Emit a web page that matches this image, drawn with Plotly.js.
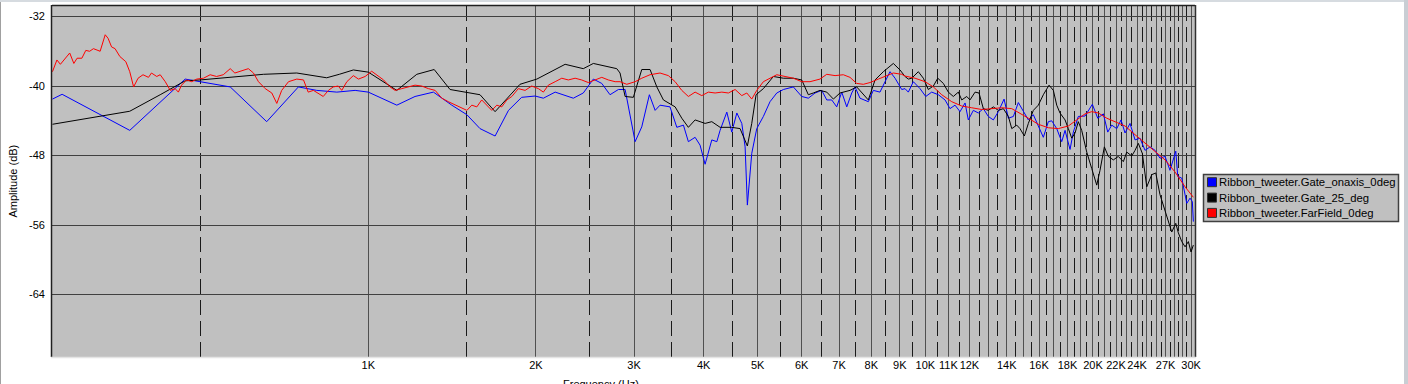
<!DOCTYPE html>
<html><head><meta charset="utf-8">
<script src="https://cdn.plot.ly/plotly-3.0.1.min.js"></script>
<style>
html,body{margin:0;padding:0;background:#fff;overflow:hidden}
#wrap{position:relative;width:1408px;height:384px}
#chart{position:absolute;left:0;top:0;width:1408px;height:384px}
.fr{position:absolute;pointer-events:none}
</style></head><body>
<div id="wrap"><div id="chart"></div>
<div class="fr" style="left:0;top:0;width:1405px;height:2px;background:#d6dbe0"></div>
<div class="fr" style="left:1404px;top:0;width:4px;height:384px;background:#c9ced4"></div>
<div class="fr" style="left:0;top:2px;width:1px;height:382px;background:#a0a0a0"></div>
</div>
<script>
// ---------------- DATA ----------------
const seriesNames = ['Ribbon_tweeter.Gate_onaxis_0deg','Ribbon_tweeter.Gate_25_deg','Ribbon_tweeter.FarField_0deg'];
const seriesColors = ['#0000ff','#000000','#ff0000'];

const onaxisFreq = [271,282,373,469,499,565,657,749,808,878,947,1000,1125,1213,1309,1412,1503,1587,1689,1785,1885,1993,2062,2165,2334,2432,2535,2625,2716,2812,2891,3013,3097,3196,3273,3340,3481,3580,3679,3755,3861,3941,4024,4137,4224,4281,4402,4493,4588,4683,4748,4792,4880,4982,5120,5263,5412,5562,5795,6000,6166,6340,6517,6654,6792,6934,7079,7227,7377,7479,7633,7901,8067,8291,8467,8642,8825,9071,9196,9322,9517,9784,10018,10268,10554,10850,11074,11309,11543,11786,11946,12197,12451,12712,12975,13248,13525,13849,14097,14392,14690,14998,15311,15631,15955,16289,16629,16865,17217,17576,17820,18189,18441,18824,19355,19948,20397,20876,21259,21613,22065,22458,22836,23309,23800,24291,24805,25319,25851,26384,26942,27500,28163,28396,28870,29474,29873,30161,30286];
const onaxisDb = [-41.5,-40.95,-45.1,-39.2,-39.5,-40.1,-44.1,-40.1,-40.5,-40.7,-40.5,-40.7,-42.2,-41.2,-40.7,-42.2,-43.3,-44.9,-45.75,-42.8,-41.3,-41.15,-41.4,-40.7,-41.4,-40.8,-39.2,-39.7,-41.0,-40.4,-40.4,-46.4,-44.7,-41.0,-42.8,-42.2,-42.4,-44.75,-44.5,-46.4,-45.9,-46.8,-49.0,-46.2,-46.4,-45.1,-43.0,-45.3,-43.1,-44.3,-47.0,-53.7,-47.75,-44.9,-43.5,-41.8,-40.8,-40.4,-40.1,-41.2,-41.4,-40.8,-40.5,-41.6,-41.6,-42.4,-40.7,-42.4,-40.8,-40.1,-41.4,-41.8,-40.5,-40.7,-39.5,-38.35,-39.1,-40.4,-40.3,-40.7,-39.5,-40.3,-41.2,-40.7,-41.0,-41.6,-42.6,-42.2,-42.95,-41.95,-43.9,-42.8,-43.1,-42.6,-43.5,-43.9,-42.95,-41.5,-43.7,-43.5,-41.9,-42.95,-43.9,-43.3,-44.5,-45.9,-44.1,-44.0,-44.9,-46.4,-45.1,-47.3,-45.3,-43.5,-43.45,-42.1,-43.7,-43.2,-45.3,-44.5,-44.9,-43.9,-45.4,-44.3,-46.2,-46.0,-47.4,-47.0,-47.4,-48.3,-48.1,-49.7,-47.5,-50.4,-50.6,-53.5,-52.9,-53.3,-55.6];

const deg25Freq = [271,373,423,469,499,565,648,744,842,887,940,1000,1125,1222,1313,1402,1503,1587,1689,1797,1872,2007,2256,2432,2535,2793,2831,2891,2991,3097,3205,3296,3387,3555,3654,3755,3861,4024,4137,4281,4493,4650,4792,4880,4968,5120,5337,5562,5795,6000,6166,6295,6470,6654,6838,7028,7325,7531,7901,8124,8407,8762,9007,9196,9322,9454,9716,9920,10125,10338,10528,10775,10998,11229,11463,11626,11869,12029,12284,12487,12712,12975,13248,13525,13809,14097,14296,14594,14791,15060,15311,15631,15955,16289,16677,16978,17217,17450,17820,18063,18319,18572,18824,19090,19491,19898,20314,20589,20963,21311,21757,22209,22675,22997,23476,23800,24124,24527,24980,25500,25926,26384,26864,27310,27698,28163,28466,28870,29268,29667,29998,30286];
const deg25Db = [-44.4,-42.9,-41.0,-39.4,-39.3,-39.0,-38.65,-38.5,-39.05,-38.65,-38.15,-38.4,-40.5,-38.65,-38.1,-40.4,-40.7,-41.0,-42.95,-41.0,-39.8,-39.2,-37.5,-38.0,-37.4,-38.0,-38.5,-41.2,-41.3,-38.1,-38.1,-40.1,-41.6,-42.4,-43.7,-44.75,-43.9,-44.3,-44.1,-44.75,-44.75,-44.9,-46.9,-44.3,-41.0,-40.3,-38.9,-39.1,-39.1,-39.3,-41.0,-40.8,-40.5,-40.7,-41.5,-40.8,-40.5,-40.1,-41.6,-39.3,-38.35,-37.4,-38.15,-38.9,-39.2,-39.1,-38.35,-39.1,-40.4,-40.0,-39.1,-39.7,-40.7,-41.2,-40.7,-41.6,-41.2,-41.6,-40.7,-40.8,-42.6,-42.8,-42.4,-42.8,-42.6,-43.5,-44.9,-44.5,-44.9,-45.75,-44.3,-42.8,-42.2,-41.0,-39.9,-40.5,-42.2,-43.1,-43.9,-44.9,-46.0,-45.4,-44.1,-45.1,-47.6,-49.5,-51.4,-49.7,-47.0,-48.1,-48.5,-48.1,-48.7,-47.6,-48.05,-47.4,-46.6,-47.75,-51.6,-50.2,-50.0,-52.5,-54.1,-55.8,-56.8,-55.8,-56.9,-57.9,-58.5,-57.9,-59.1,-58.3];

const farFreq = [271,276,280,286,291,296,300,306,311,316,321,330,337,341,346,351,358,367,373,379,386,394,403,408,417,423,432,441,450,456,462,472,482,492,506,520,534,549,565,576,588,609,622,635,653,671,685,699,719,744,765,780,797,813,830,848,865,883,896,915,940,960,987,1014,1036,1065,1094,1117,1148,1180,1213,1247,1282,1318,1355,1392,1432,1472,1503,1534,1566,1598,1632,1666,1701,1736,1773,1810,1859,1912,1965,2020,2062,2105,2165,2225,2286,2351,2416,2483,2553,2625,2697,2774,2831,2911,3013,3097,3205,3340,3457,3555,3654,3755,3861,3969,4079,4194,4312,4430,4556,4683,4781,4880,4982,5120,5263,5412,5600,5795,6000,6209,6470,6654,6886,7126,7325,7531,7740,7956,8234,8526,8762,9071,9196,9585,9990,10338,10703,11154,11626,12116,12628,13159,13717,14296,14791,15311,15955,16629,17330,18063,18702,19355,19898,20447,21172,21911,22836,23800,24805,25851,26942,28082,29268,30286];
const farDb = [-38.35,-37.0,-37.5,-36.8,-36.2,-37.4,-36.8,-36.8,-35.9,-36.0,-35.7,-36.0,-34.1,-34.5,-35.5,-35.7,-36.6,-37.2,-38.35,-40.1,-39.1,-38.7,-39.0,-38.5,-38.9,-38.7,-39.5,-40.5,-40.3,-40.7,-39.9,-39.3,-39.5,-39.2,-39.1,-38.7,-38.9,-38.7,-38.0,-38.5,-38.3,-38.0,-38.5,-39.5,-40.3,-40.8,-42.0,-40.5,-39.5,-39.2,-39.3,-40.7,-40.5,-40.8,-41.2,-40.5,-40.1,-40.0,-40.5,-39.5,-38.8,-39.2,-38.9,-38.3,-38.7,-39.3,-40.1,-40.5,-40.3,-40.1,-39.9,-40.0,-40.3,-40.5,-41.4,-41.8,-42.2,-42.6,-42.8,-42.2,-42.4,-41.6,-42.2,-42.8,-42.2,-42.4,-41.6,-41.2,-40.3,-40.5,-40.0,-40.3,-40.7,-39.9,-39.5,-39.1,-39.3,-39.1,-39.3,-39.6,-39.3,-39.0,-39.3,-39.5,-39.5,-39.8,-39.5,-39.1,-38.7,-38.5,-38.8,-39.5,-40.5,-41.2,-40.7,-41.1,-40.7,-40.8,-40.7,-40.8,-40.4,-41.1,-40.8,-41.5,-40.5,-39.5,-39.1,-38.7,-38.9,-39.1,-39.5,-39.5,-39.2,-38.65,-38.8,-38.7,-39.0,-39.7,-39.8,-39.6,-39.2,-38.8,-38.5,-38.65,-38.85,-39.1,-39.5,-40.1,-41.0,-41.8,-42.3,-42.5,-42.7,-42.6,-42.5,-42.6,-43.1,-43.7,-44.4,-44.8,-44.9,-44.6,-43.9,-43.2,-42.95,-43.1,-43.7,-44.1,-44.6,-45.6,-46.6,-47.6,-48.5,-49.9,-51.6,-52.8];

const yTicks = [-32,-40,-48,-56,-64];
const xLabeledTicks = [1000,2000,3000,4000,5000,6000,7000,8000,9000,10000,11000,12000,14000,16000,18000,20000,22000,24000,27000,30000];
const xTickLabels = ['1K','2K','3K','4K','5K','6K','7K','8K','9K','10K','11K','12K','14K','16K','18K','20K','22K','24K','27K','30K'];
const yTitle = 'Amplitude (dB)';
const xTitle = 'Frequency (Hz)';

// ---------------- LAYOUT ----------------
const L=52, R=1195, T=6, B=357;
const pxX = p => (p-L)/(R-L);
const pxY = p => (B-p)/(B-T);

const majorTicks=[], majorText=[], minorTicks=[];
for(let f=500; f<=30000; f+=500){
  if(f%1000===0){ majorTicks.push(f); const i=xLabeledTicks.indexOf(f); majorText.push(i>=0?xTickLabels[i]:''); }
  else minorTicks.push(f);
}

const data = [
  {x:onaxisFreq,y:onaxisDb},
  {x:deg25Freq,y:deg25Db},
  {x:farFreq,y:farDb}
].map((s,i)=>({type:'scatter',mode:'lines',x:s.x,y:s.y,name:seriesNames[i],
  line:{color:seriesColors[i],width:1},showlegend:false,hoverinfo:'skip'}));

const FONT='"Liberation Sans", Arial, sans-serif';
const shapes=[
  {type:'line',xref:'paper',yref:'paper',x0:0,x1:1,y0:pxY(5.5),y1:pxY(5.5),line:{color:'#202020',width:1.5},layer:'above'},
  {type:'line',xref:'paper',yref:'paper',x0:pxX(51.5),x1:pxX(51.5),y0:0,y1:pxY(5),line:{color:'#202020',width:1.5},layer:'above'},
  {type:'line',xref:'paper',yref:'paper',x0:pxX(1195.5),x1:pxX(1195.5),y0:0,y1:pxY(5),line:{color:'#303030',width:1.5},layer:'above'},
  {type:'line',xref:'paper',yref:'paper',x0:pxX(51),x1:pxX(1196),y0:pxY(357.5),y1:pxY(357.5),line:{color:'#e4e4e4',width:1.5},layer:'above'},
  {type:'rect',xref:'paper',yref:'paper',x0:pxX(1203.5),x1:pxX(1398.5),y0:pxY(221.5),y1:pxY(174.5),fillcolor:'#c0c0c0',line:{color:'#404040',width:1.5},layer:'above'}
];
const rowsY=[182.2,197.6,212.9];
const annotations=[
  {xref:'paper',yref:'paper',x:pxX(12),y:0.5,text:yTitle,textangle:-90,showarrow:false,xanchor:'center',yanchor:'middle',font:{family:FONT,size:11,color:'#000'}},
  {xref:'paper',yref:'paper',x:pxX(601),y:pxY(376),text:xTitle,showarrow:false,xanchor:'center',yanchor:'top',font:{family:FONT,size:11,color:'#000'}}
];
seriesNames.forEach((n,i)=>{
  const cy=rowsY[i];
  shapes.push({type:'rect',xref:'paper',yref:'paper',x0:pxX(1207.5),x1:pxX(1216.5),y0:pxY(cy+4.5),y1:pxY(cy-4.5),fillcolor:seriesColors[i],line:{color:'#303030',width:1},layer:'above'});
  annotations.push({xref:'paper',yref:'paper',x:pxX(1217),y:pxY(cy),text:n,showarrow:false,xanchor:'left',yanchor:'middle',font:{family:FONT,size:11.3,color:'#000'}});
});

const layout={
  width:1408,height:384,margin:{l:L,r:1408-R,t:T,b:384-B},
  paper_bgcolor:'#ffffff',plot_bgcolor:'#c0c0c0',
  font:{family:FONT,size:11,color:'#000'},
  showlegend:false,
  xaxis:{type:'log',range:[2.4321,4.4842],tickmode:'array',tickvals:majorTicks,ticktext:majorText,tickangle:0,
    showgrid:true,gridcolor:'#505050',gridwidth:1,ticks:'',zeroline:false,showline:false,
    tickfont:{family:FONT,size:11,color:'#000'},
    minor:{tickmode:'array',tickvals:minorTicks,showgrid:true,gridcolor:'#1a1a1a',gridwidth:1,griddash:'15px,6px',ticks:''}},
  yaxis:{range:[-71.18,-30.79],tickmode:'array',tickvals:yTicks,ticktext:yTicks.map(v=>'-'+Math.abs(v)),
    showgrid:true,gridcolor:'#404040',gridwidth:1,ticks:'',zeroline:false,showline:false,ticklabelstandoff:6,
    tickfont:{family:FONT,size:11,color:'#000'}},
  shapes:shapes,annotations:annotations
};
Plotly.newPlot('chart',data,layout,{staticPlot:true,displayModeBar:false});
</script>
</body></html>
